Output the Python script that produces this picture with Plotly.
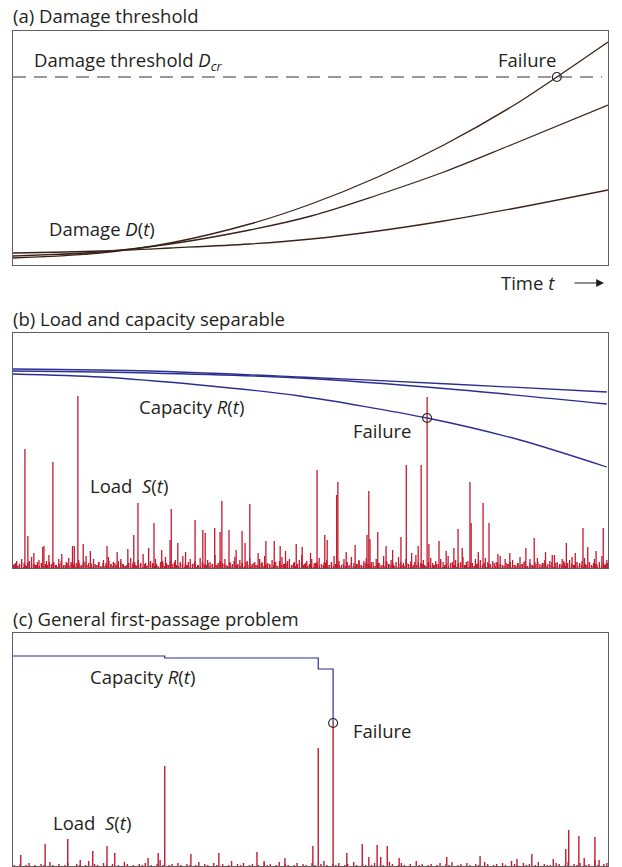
import numpy as np
import plotly.graph_objects as go

W, H = 622, 867

# ---------------- (a) damage accumulation ----------------
t_damage = [0, 14.6, 26.4, 39.8, 50.1, 61.3, 72.4, 83.7, 91.4, 100]
damage_fast = [7, 12, 22, 41, 61, 88, 120, 158, 188, 223]
t_damage_b = [0, 14.6, 26.4, 39.8, 50.1, 61.3, 72.4, 83.7, 100]
damage_mid = [9, 13, 21, 35, 49, 70, 93, 120, 160]
damage_slow = [12, 14, 17, 21, 26, 34, 44, 56, 75]
damage_threshold = 188
failure_a = (91.4, 188)

# ---------------- (b) load and capacity separable ----------------
t_cap_b = [0, 23.0, 48.2, 73.4, 99.8]
capacity_upper = [199, 197, 191, 184, 176]
capacity_middle = [197, 195, 190, 179, 164]
t_cap_low = [0, 14.6, 31.4, 48.2, 69.6, 85.2, 99.8]
capacity_lower = [194, 191, 183, 172, 150, 128, 101]
failure_b = (69.6, 150)

noise_b = [
    4, 7, 3, 9, 5, 2, 6, 11, 4, 3, 8, 5, 2, 7, 13, 4, 6, 3, 9, 5,
    3, 6, 10, 4, 2, 5, 8, 3, 7, 12, 5, 4, 9, 3, 6, 2, 8, 5, 11, 4,
    6, 3, 7, 9, 4, 2, 5, 10, 6, 3, 8, 4, 14, 5, 3, 7, 4, 9, 2, 6,
    5, 11, 3, 7, 4, 8, 2, 6, 12, 5, 3, 9, 4, 7, 3, 10, 5, 2, 8, 6,
    4, 13, 3, 7, 5, 9, 2, 6, 4, 11, 3, 8, 5, 2, 7, 10, 4, 6, 3, 9,
    5, 12, 4, 3, 8, 6, 2, 7, 11, 4, 5, 9, 3, 6, 2, 8, 13, 4, 7, 3,
    9, 5, 4, 10, 2, 6, 8, 3, 5, 12, 4, 7, 3, 9, 6, 2, 11, 5, 4, 8,
    3, 7, 10, 4, 6, 2, 9, 5, 3, 12, 7, 4, 8, 3, 6, 11, 2, 5, 9, 4,
    7, 3, 13, 6, 4, 8, 2, 5, 10, 3, 7, 4, 9, 6, 2, 12, 5, 3, 8, 4,
    6, 11, 3, 7, 5, 2, 9, 4, 8, 3, 10, 6, 4, 7, 2, 5, 12, 3, 9, 4,
    6, 8, 3, 5, 11, 4, 7, 2, 9, 3, 6, 10, 4, 5, 8, 2, 7, 13, 3, 6,
    4, 9, 5, 2, 8, 11, 3, 6, 4, 7, 10, 3, 5, 2, 9, 4, 6, 12, 3, 8,
]
noise_b_fine = [
    3, 5, 2, 4, 6, 1, 3, 5, 7, 2, 4, 3, 6, 2, 5, 1, 4, 3, 6, 2,
    5, 3, 1, 4, 7, 2, 3, 5, 2, 6, 4, 1, 3, 5, 2, 4, 6, 3, 1, 5,
    2, 4, 3, 6, 1, 5, 2, 3, 7, 4, 2, 5, 3, 1, 6, 4, 2, 3, 5, 1,
    4, 6, 2, 3, 5, 1, 4, 2, 6, 3, 5, 2, 4, 1, 3, 7, 2, 5, 3, 4,
    1, 6, 3, 2, 5, 4, 1, 3, 6, 2, 4, 5, 1, 3, 2, 6, 4, 3, 5, 2,
    4, 1, 3, 5, 6, 2, 4, 3, 1, 5, 2, 7, 3, 4, 2, 5, 1, 6, 3, 4,
    2, 5, 3, 1, 4, 6, 2, 3, 5, 4, 1, 3, 6, 2, 5, 3, 4, 1, 7, 2,
    3, 5, 2, 4, 1, 6, 3, 5, 2, 4, 3, 1, 5, 6, 2, 4, 3, 5, 1, 3,
    6, 2, 4, 5, 3, 1, 4, 2, 6, 3, 5, 2, 1, 4, 7, 3, 2, 5, 4, 1,
    3, 6, 2, 4, 5, 1, 3, 2, 6, 4, 3, 5, 2, 1, 4, 6, 3, 2, 5, 3,
    4, 1, 6, 3, 2, 5, 4, 3, 1, 6, 2, 5, 3, 4, 2, 7, 1, 3, 5, 2,
    4, 6, 3, 1, 5, 2, 4, 3, 6, 1, 3, 5, 2, 4, 6, 3, 2, 5, 1, 4,
    3, 2, 5, 6, 1, 4, 3, 2, 5, 4, 6, 1, 3, 2, 5, 3, 4, 6, 2, 1,
    5, 3, 2, 4, 6, 1, 3, 5, 2, 4, 3, 6, 1, 5, 2, 4, 3, 7, 2, 5,
    1, 4, 3, 6, 2, 5, 3, 1, 4, 2, 6, 3, 5, 4, 1, 3, 2, 6, 4, 5,
]
peak_t_b = [
    2.0, 2.5, 3.5, 5.0, 5.2, 6.7, 8.2, 10.0, 10.3, 10.9, 11.8, 13.0, 15.8,
    17.5, 19.3, 20.3, 21.0, 22.8, 23.7, 25.0, 26.4, 26.6, 27.7, 29.0, 30.6,
    31.9, 32.3, 33.9, 34.8, 35.1, 36.3, 37.5, 38.5, 39.0, 39.8, 41.2, 42.5,
    43.9, 44.9, 45.8, 47.6, 48.6, 50.0, 51.1, 52.4, 52.8, 54.4, 54.6, 56.0,
    57.5, 59.5, 59.8, 60.0, 61.3, 62.7, 63.8, 65.2, 66.1, 67.0, 68.1, 68.6,
    69.6, 69.9, 71.6, 72.8, 74.1, 74.8, 75.5, 76.8, 77.0, 78.2, 79.0, 80.0,
    81.5, 83.5, 86.2, 87.6, 89.5, 91.0, 93.0, 94.5, 95.8, 96.6, 98.0, 99.2,
]
peak_s_b = [
    119, 32, 15, 21, 22, 106, 14, 22, 22, 172, 24, 17, 22,
    16, 19, 33, 65, 20, 45, 18, 28, 59, 25, 16, 48,
    38, 35, 40, 36, 67, 38, 18, 37, 25, 64, 15, 27,
    27, 22, 17, 24, 21, 15, 98, 33, 28, 73, 86, 16,
    23, 33, 77, 29, 36, 22, 18, 31, 103, 15, 22, 103,
    171, 24, 27, 17, 20, 39, 20, 86, 45, 16, 65, 45,
    14, 15, 20, 30, 16, 13, 25, 15, 40, 21, 17, 40,
]

# ---------------- (c) general first-passage ----------------
t_cap_c = [0, 25.5, 25.5, 51.3, 51.3, 53.8, 53.8]
capacity_c = [210, 210, 208, 208, 197, 197, 143]
failure_c = (53.8, 143)

noise_c = [
    1, 0, 2, 0, 1, 3, 0, 1, 0, 2, 1, 0, 4, 1, 0, 2, 0, 1, 3, 0,
    0, 2, 1, 0, 1, 5, 0, 2, 1, 0, 3, 1, 0, 2, 0, 1, 0, 4, 2, 0,
    1, 0, 2, 1, 3, 0, 1, 0, 2, 6, 1, 0, 1, 2, 0, 3, 1, 0, 2, 1,
    0, 1, 4, 0, 2, 1, 0, 3, 1, 0, 2, 0, 1, 5, 0, 2, 1, 3, 0, 1,
    2, 0, 1, 0, 3, 1, 2, 0, 1, 4, 0, 2, 1, 0, 1, 3, 0, 2, 1, 0,
    3, 1, 0, 2, 5, 1, 0, 2, 1, 3, 0, 1, 2, 0, 4, 1, 0, 2, 1, 0,
    1, 3, 0, 2, 1, 0, 4, 2, 0, 1, 3, 1, 0, 2, 0, 5, 1, 2, 0, 1,
    2, 0, 1, 3, 0, 2, 1, 4, 0, 1, 2, 0, 3, 1, 0, 2, 1, 0, 4, 2,
    0, 1, 2, 0, 3, 1, 0, 5, 2, 1, 0, 3, 1, 2, 0, 1, 4, 0, 2, 1,
    1, 0, 3, 2, 0, 1, 4, 0, 2, 1, 3, 0, 1, 2, 0, 6, 1, 0, 2, 3,
]
peak_t_c = [
    1.3, 5.4, 9.2, 11.3, 13.4, 15.8, 17.1, 22.7, 24.4, 25.5, 29.9, 34.6,
    41.0, 42.2, 45.7, 50.4, 51.3, 53.8, 56.1, 58.7, 59.8, 61.2, 61.8, 62.9,
    64.9, 72.9, 78.5, 84.7, 87.2, 90.8, 92.9, 93.4, 95.1, 96.0, 97.8, 98.5,
]
peak_s_c = [
    11, 22, 27, 6, 15, 20, 13, 8, 13, 100, 12, 13,
    14, 5, 8, 20, 118, 143, 13, 22, 9, 21, 9, 20,
    8, 9, 10, 7, 12, 7, 17, 36, 30, 8, 29, 6,
]

RED = "#c4192f"
BLUE = "#2b2f92"
BROWN = "#3b2219"
TEXT = "#231f20"
BOX = "#5f5f5f"
FONT = "Open Sans"
FS = 18.5


def px(x):
    return x / W


def py(y):
    return 1 - y / H


def stems(ts, ss):
    xs, ys = [], []
    for t, s in zip(ts, ss):
        xs += [t, t, None]
        ys += [0, s, None]
    return xs, ys


fig = go.Figure()

# panel (a)
for ts, vals in [(t_damage, damage_fast), (t_damage_b, damage_mid), (t_damage_b, damage_slow)]:
    fig.add_trace(go.Scatter(x=ts, y=vals, mode="lines", xaxis="x", yaxis="y",
                             line=dict(color=BROWN, width=1.3, shape="spline", smoothing=1.0),
                             hoverinfo="skip"))
fig.add_trace(go.Scatter(x=[0, 99], y=[damage_threshold, damage_threshold], mode="lines",
                         xaxis="x", yaxis="y",
                         line=dict(color="#333333", width=1, dash="13px,8px"), hoverinfo="skip"))
fig.add_trace(go.Scatter(x=[failure_a[0]], y=[failure_a[1]], mode="markers", xaxis="x", yaxis="y",
                         marker=dict(symbol="circle-open", size=9, color="#222222", line=dict(width=1.1)),
                         hoverinfo="skip"))

# panel (b)
t_noise_b = np.linspace(0.2, 99.8, len(noise_b))
t_fine_b = np.linspace(0.1, 99.9, len(noise_b_fine))
xs, ys = stems(list(t_fine_b) + list(t_noise_b) + peak_t_b, noise_b_fine + noise_b + peak_s_b)
fig.add_trace(go.Scatter(x=xs, y=ys, mode="lines", xaxis="x2", yaxis="y2",
                         line=dict(color=RED, width=1.3), hoverinfo="skip"))
for ts, vals in [(t_cap_b, capacity_upper), (t_cap_b, capacity_middle), (t_cap_low, capacity_lower)]:
    fig.add_trace(go.Scatter(x=ts, y=vals, mode="lines", xaxis="x2", yaxis="y2",
                             line=dict(color=BLUE, width=1.3, shape="spline", smoothing=0.8),
                             hoverinfo="skip"))
fig.add_trace(go.Scatter(x=[failure_b[0]], y=[failure_b[1]], mode="markers", xaxis="x2", yaxis="y2",
                         marker=dict(symbol="circle-open", size=9, color="#222222", line=dict(width=1.1)),
                         hoverinfo="skip"))

# panel (c)
t_noise_c = np.linspace(0.2, 99.8, len(noise_c))
xs, ys = stems(list(t_noise_c) + peak_t_c, noise_c + peak_s_c)
fig.add_trace(go.Scatter(x=xs, y=ys, mode="lines", xaxis="x3", yaxis="y3",
                         line=dict(color=RED, width=1.4), hoverinfo="skip"))
fig.add_trace(go.Scatter(x=t_cap_c, y=capacity_c, mode="lines", xaxis="x3", yaxis="y3",
                         line=dict(color=BLUE, width=1.2), hoverinfo="skip"))
fig.add_trace(go.Scatter(x=[failure_c[0]], y=[failure_c[1]], mode="markers", xaxis="x3", yaxis="y3",
                         marker=dict(symbol="circle-open", size=9, color="#222222", line=dict(width=1.1)),
                         hoverinfo="skip"))

axis_common = dict(showline=True, mirror=True, linecolor=BOX, linewidth=1, showgrid=False,
                   zeroline=False, showticklabels=False, ticks="", fixedrange=True)
xdom = [px(13), px(608)]
fig.update_layout(
    width=W, height=H,
    margin=dict(l=0, r=0, t=0, b=0),
    paper_bgcolor="white", plot_bgcolor="white",
    showlegend=False,
    font=dict(family=FONT, color=TEXT, size=FS),
    xaxis=dict(domain=xdom, range=[0, 100], anchor="y", **axis_common),
    yaxis=dict(domain=[py(265), py(31)], range=[0, 234], anchor="x", **axis_common),
    xaxis2=dict(domain=xdom, range=[0, 100], anchor="y2", **axis_common),
    yaxis2=dict(domain=[py(568), py(333)], range=[0, 235], anchor="x2", **axis_common),
    xaxis3=dict(domain=xdom, range=[0, 100], anchor="y3", **axis_common),
    yaxis3=dict(domain=[py(866), py(633)], range=[0, 233], anchor="x3", **axis_common),
)


def label(text, x, y, size=FS):
    fig.add_annotation(text=text, x=px(x), y=py(y), xref="paper", yref="paper",
                       xanchor="left", yanchor="middle", showarrow=False,
                       font=dict(family=FONT, size=size, color=TEXT))


label("(a) Damage threshold", 11, 15)
label("Damage threshold <i>D</i><sub><i>cr</i></sub>", 32, 61)
label("Failure", 496, 59)
label("Damage <i>D</i>(<i>t</i>)", 47, 229)
label("Time <i>t</i>", 499, 282)
fig.add_annotation(x=px(604), y=py(283), ax=-31, ay=0, xref="paper", yref="paper",
                   axref="pixel", ayref="pixel", text="", showarrow=True,
                   arrowhead=2, arrowsize=1.3, arrowwidth=1.2, arrowcolor=TEXT)

label("(b) Load and capacity separable", 11, 318)
label("Capacity <i>R</i>(<i>t</i>)", 137, 406)
label("Failure", 351, 430)
label("Load  <i>S</i>(<i>t</i>)", 88, 485)

label("(c) General first-passage problem", 11, 618)
label("Capacity <i>R</i>(<i>t</i>)", 88, 676)
label("Failure", 351, 730)
label("Load  <i>S</i>(<i>t</i>)", 51, 822)

fig.write_html("out.html")
